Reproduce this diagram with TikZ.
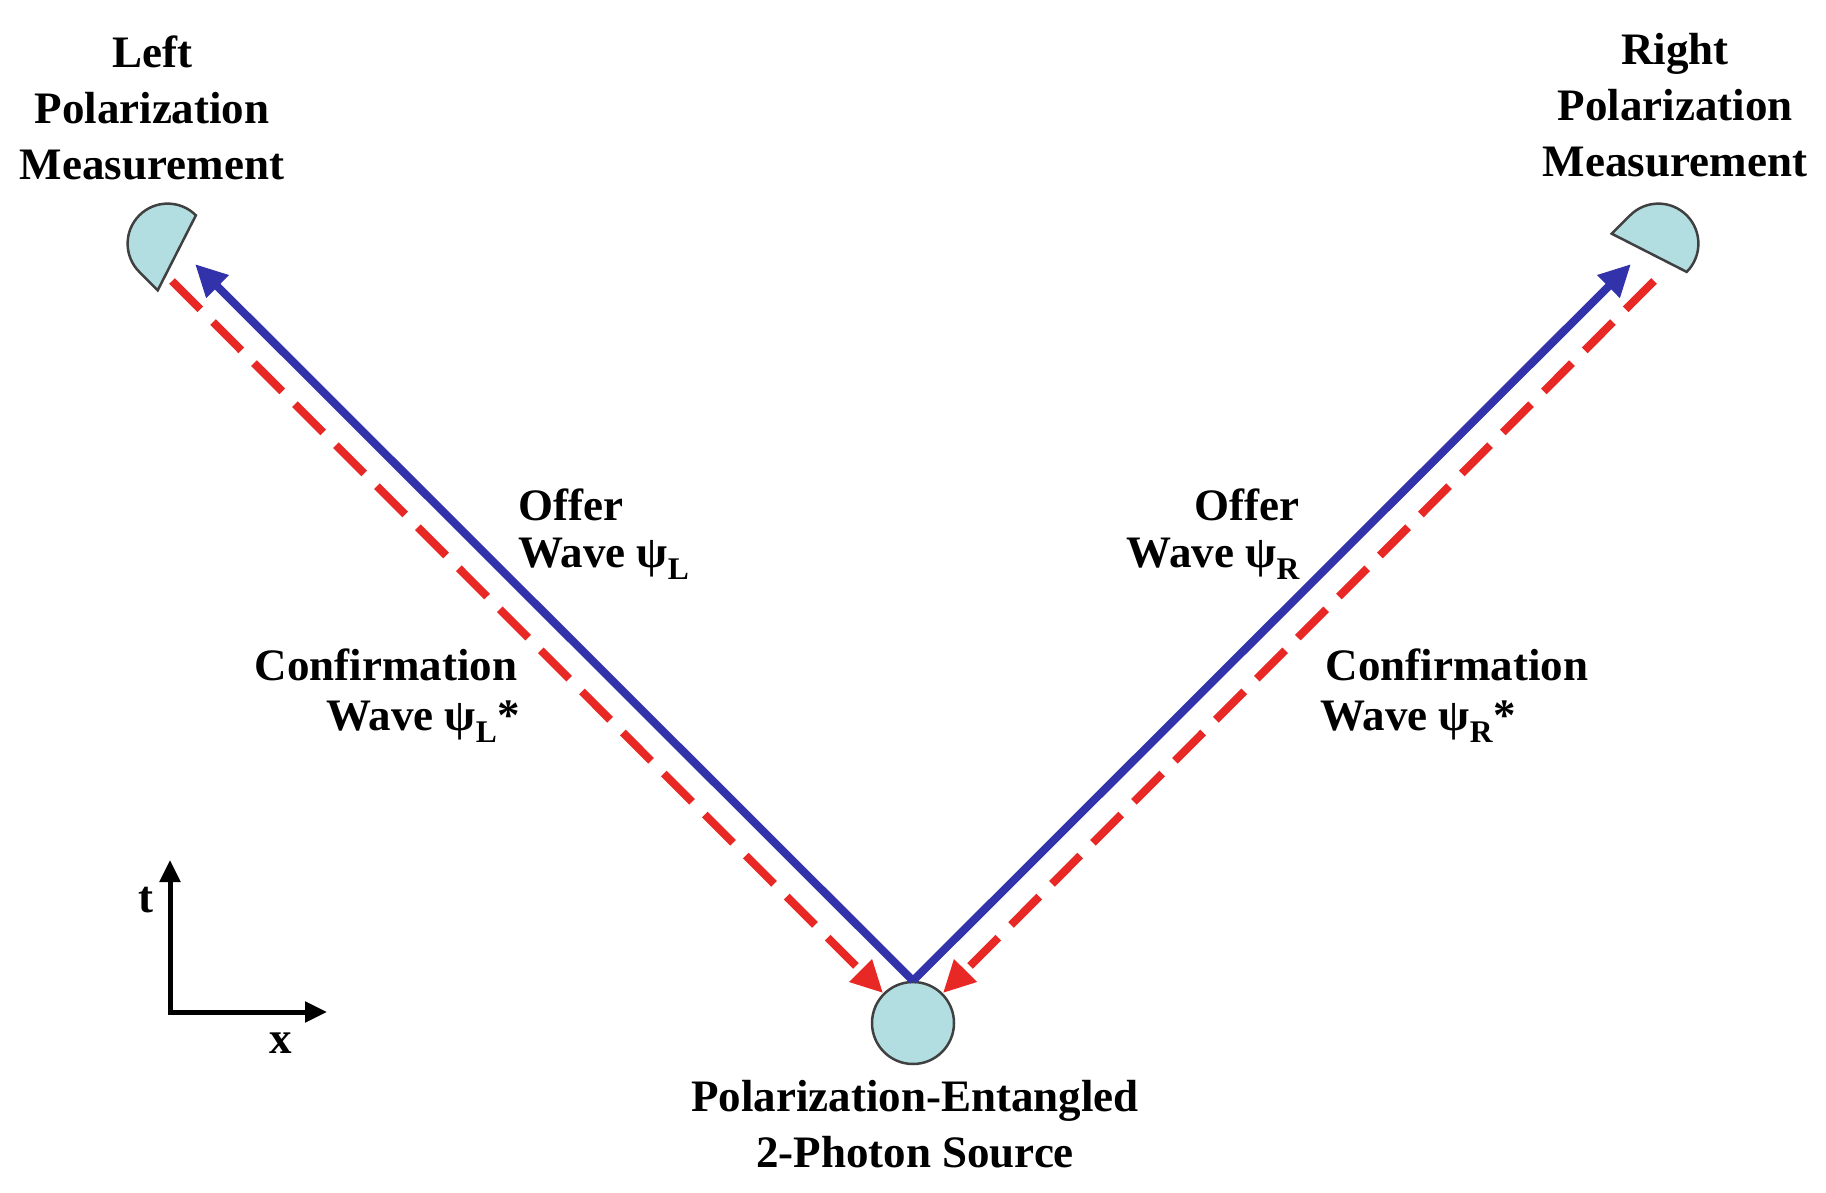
\documentclass[tikz,border=0pt]{standalone}
\usepackage{fontspec}
\setmainfont{Liberation Serif}
\usetikzlibrary{arrows.meta}
\definecolor{wblue}{RGB}{50,50,170}
\definecolor{wred}{RGB}{232,40,36}
\definecolor{det}{RGB}{178,222,226}
\begin{document}
\begin{tikzpicture}[x=1pt,y=-1pt,
  lbl/.style={font=\fontsize{45}{56}\selectfont\bfseries,align=center,inner sep=0},
  offer/.style={line width=8pt,wblue,-{Triangle[length=32pt,width=30pt]}},
  conf/.style={line width=8pt,wred,dash pattern=on 40pt off 18pt,-{Triangle[length=32pt,width=30pt]}},
  detshape/.style={fill=det,draw=black!75,line width=2.5pt}]
\useasboundingbox (0,0) rectangle (1826,1193);
% detectors
\begin{scope}[shift={(186,262)}]
 \begin{scope}[x=1pt,y=1pt,rotate=45]
  \draw[detshape] (-40,0)--(-40,26) arc(180:0:40)--(40,26)--cycle;
 \end{scope}
\end{scope}
\begin{scope}[shift={(1640,262)}]
 \begin{scope}[x=1pt,y=1pt,rotate=-45]
  \draw[detshape] (-40,0)--(-40,26) arc(180:0:40)--(40,26)--cycle;
 \end{scope}
\end{scope}
\coordinate (Lin) at (195,264);
\coordinate (Rin) at (1631,264);
\coordinate (Lout) at (172,281);
\coordinate (Rout) at (1654,281);
% source
\node[circle,minimum size=82pt,inner sep=0,fill=det,draw=black!75,line width=2.5pt] (src) at (913,1023) {};
% waves
\draw[conf] (Lout) -- (src.135);
\draw[conf] (Rout) -- (src.45);
\draw[offer] (src.north) -- (Lin);
\draw[offer] (src.north) -- (Rin);
% labels
\node[lbl] (lt) at (152,108) {Left\\Polarization\\Measurement};
\node[lbl] (rt) at (1675,105) {Right\\Polarization\\Measurement};
\node[lbl] (st) at (915,1124) {Polarization-Entangled\\2-Photon Source};
\node[lbl,anchor=west] (ol) at (518,505) {Offer};
\node[lbl,anchor=west] (owl) at (518,559) {Wave ψ\textsubscript{L}};
\node[lbl] (cl) at (386,665) {Confirmation};
\node[lbl] (cwl) at (423,722) {Wave ψ\textsubscript{L}*};
\node[lbl,anchor=east] (or) at (1300,505) {Offer};
\node[lbl,anchor=east] (owr) at (1300,559) {Wave ψ\textsubscript{R}};
\node[lbl] (cr) at (1457,665) {Confirmation};
\node[lbl,anchor=west] (cwr) at (1320,722) {Wave ψ\textsubscript{R}*};
% axes
\coordinate (o) at (170,1012);
\coordinate (tt) at (170,860);
\coordinate (xx) at (327,1012);
\draw[line width=5pt,-{Triangle[length=22pt,width=20pt]}] (o) -- (tt);
\draw[line width=5pt,-{Triangle[length=22pt,width=20pt]}] ([xshift=-2.5pt]o) -- (xx);
\node[lbl] (tl) at (146,900) {t};
\node[lbl] (xl) at (281,1043) {x};
\end{tikzpicture}
\end{document}
